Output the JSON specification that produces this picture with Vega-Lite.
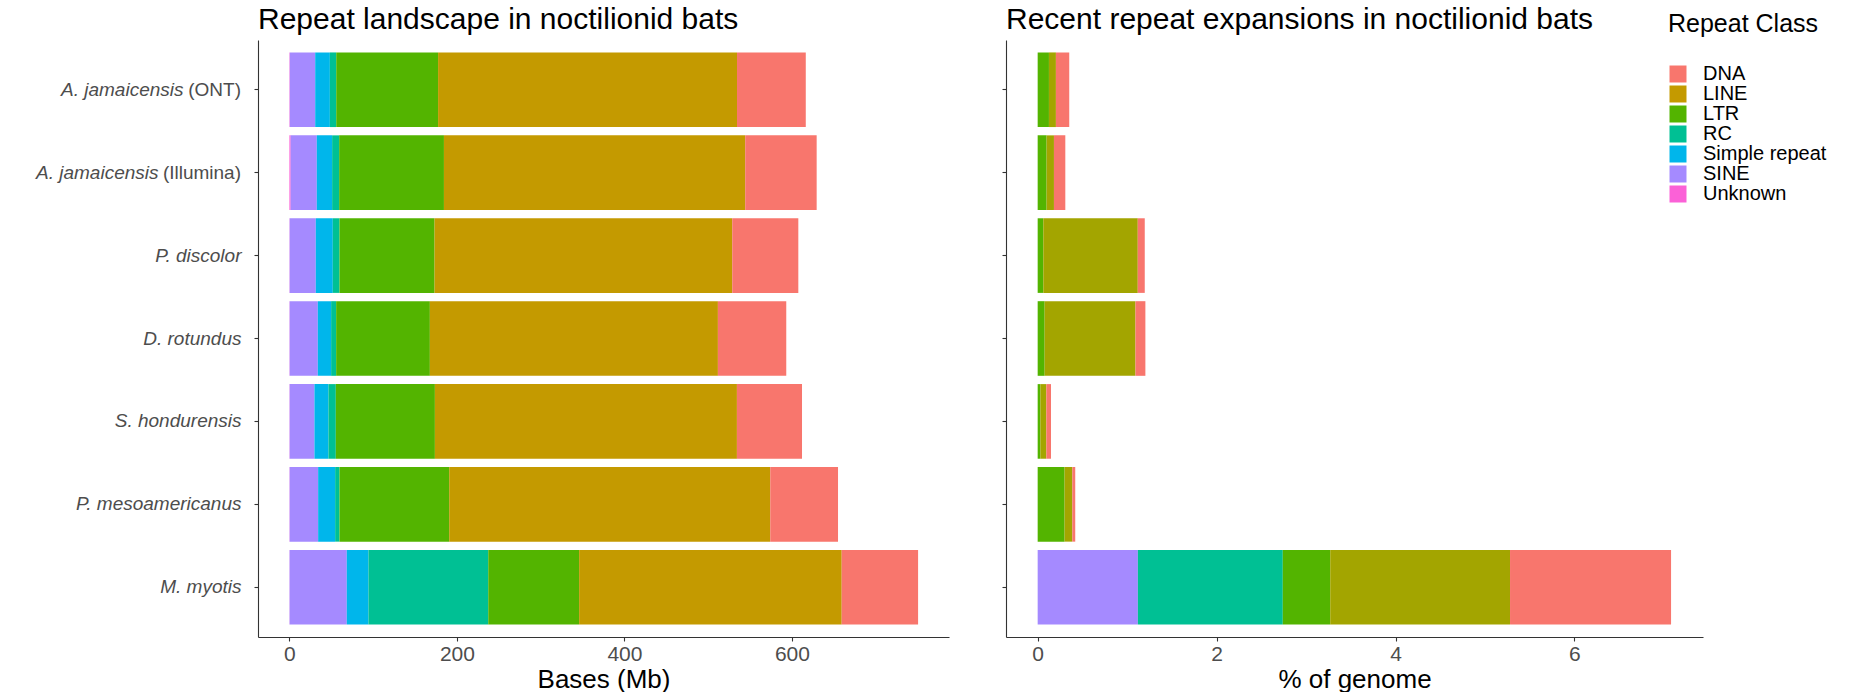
{
  "$schema": "https://vega.github.io/schema/vega-lite/v6.json",
  "padding": {"left": 5, "top": 5, "right": 5, "bottom": 0},
  "background": "white",
  "config": {"font": "Liberation Sans", "view": {"stroke": null}},
  "spacing": 52,
  "datasets": {
    "left": [
      {"species": "A. jamaicensis (ONT)", "cls": "Unknown", "mb": 0.5},
      {"species": "A. jamaicensis (ONT)", "cls": "SINE", "mb": 30.3},
      {"species": "A. jamaicensis (ONT)", "cls": "Simple repeat", "mb": 17.5},
      {"species": "A. jamaicensis (ONT)", "cls": "RC", "mb": 7.6},
      {"species": "A. jamaicensis (ONT)", "cls": "LTR", "mb": 121.6},
      {"species": "A. jamaicensis (ONT)", "cls": "LINE", "mb": 356.9},
      {"species": "A. jamaicensis (ONT)", "cls": "DNA", "mb": 82.1},
      {"species": "A. jamaicensis (Illumina)", "cls": "Unknown", "mb": 1.5},
      {"species": "A. jamaicensis (Illumina)", "cls": "SINE", "mb": 31.2},
      {"species": "A. jamaicensis (Illumina)", "cls": "Simple repeat", "mb": 18.3},
      {"species": "A. jamaicensis (Illumina)", "cls": "RC", "mb": 8.4},
      {"species": "A. jamaicensis (Illumina)", "cls": "LTR", "mb": 125.1},
      {"species": "A. jamaicensis (Illumina)", "cls": "LINE", "mb": 359.7},
      {"species": "A. jamaicensis (Illumina)", "cls": "DNA", "mb": 85.3},
      {"species": "P. discolor", "cls": "Unknown", "mb": 0.3},
      {"species": "P. discolor", "cls": "SINE", "mb": 31.2},
      {"species": "P. discolor", "cls": "Simple repeat", "mb": 20.3},
      {"species": "P. discolor", "cls": "RC", "mb": 8.0},
      {"species": "P. discolor", "cls": "LTR", "mb": 113.5},
      {"species": "P. discolor", "cls": "LINE", "mb": 355.4},
      {"species": "P. discolor", "cls": "DNA", "mb": 78.9},
      {"species": "D. rotundus", "cls": "Unknown", "mb": 0.3},
      {"species": "D. rotundus", "cls": "SINE", "mb": 33.6},
      {"species": "D. rotundus", "cls": "Simple repeat", "mb": 15.9},
      {"species": "D. rotundus", "cls": "RC", "mb": 6.0},
      {"species": "D. rotundus", "cls": "LTR", "mb": 111.9},
      {"species": "D. rotundus", "cls": "LINE", "mb": 343.9},
      {"species": "D. rotundus", "cls": "DNA", "mb": 81.6},
      {"species": "S. hondurensis", "cls": "Unknown", "mb": 0.3},
      {"species": "S. hondurensis", "cls": "SINE", "mb": 29.6},
      {"species": "S. hondurensis", "cls": "Simple repeat", "mb": 16.7},
      {"species": "S. hondurensis", "cls": "RC", "mb": 8.8},
      {"species": "S. hondurensis", "cls": "LTR", "mb": 118.3},
      {"species": "S. hondurensis", "cls": "LINE", "mb": 360.6},
      {"species": "S. hondurensis", "cls": "DNA", "mb": 77.7},
      {"species": "P. mesoamericanus", "cls": "Unknown", "mb": 0.3},
      {"species": "P. mesoamericanus", "cls": "SINE", "mb": 34.0},
      {"species": "P. mesoamericanus", "cls": "Simple repeat", "mb": 20.3},
      {"species": "P. mesoamericanus", "cls": "RC", "mb": 5.2},
      {"species": "P. mesoamericanus", "cls": "LTR", "mb": 131.0},
      {"species": "P. mesoamericanus", "cls": "LINE", "mb": 383.3},
      {"species": "P. mesoamericanus", "cls": "DNA", "mb": 80.9},
      {"species": "M. myotis", "cls": "Unknown", "mb": 0.2},
      {"species": "M. myotis", "cls": "SINE", "mb": 68.3},
      {"species": "M. myotis", "cls": "Simple repeat", "mb": 25.9},
      {"species": "M. myotis", "cls": "RC", "mb": 143.0},
      {"species": "M. myotis", "cls": "LTR", "mb": 108.5},
      {"species": "M. myotis", "cls": "LINE", "mb": 313.5},
      {"species": "M. myotis", "cls": "DNA", "mb": 91.2}
    ],
    "right": [
      {"species": "A. jamaicensis (ONT)", "cls": "LTR", "pct": 0.126},
      {"species": "A. jamaicensis (ONT)", "cls": "LINE", "pct": 0.078},
      {"species": "A. jamaicensis (ONT)", "cls": "DNA", "pct": 0.149},
      {"species": "A. jamaicensis (Illumina)", "cls": "LTR", "pct": 0.100},
      {"species": "A. jamaicensis (Illumina)", "cls": "LINE", "pct": 0.082},
      {"species": "A. jamaicensis (Illumina)", "cls": "DNA", "pct": 0.127},
      {"species": "P. discolor", "cls": "LTR", "pct": 0.063},
      {"species": "P. discolor", "cls": "LINE", "pct": 1.056},
      {"species": "P. discolor", "cls": "DNA", "pct": 0.078},
      {"species": "D. rotundus", "cls": "LTR", "pct": 0.078},
      {"species": "D. rotundus", "cls": "LINE", "pct": 1.015},
      {"species": "D. rotundus", "cls": "DNA", "pct": 0.111},
      {"species": "S. hondurensis", "cls": "LTR", "pct": 0.030},
      {"species": "S. hondurensis", "cls": "LINE", "pct": 0.067},
      {"species": "S. hondurensis", "cls": "DNA", "pct": 0.052},
      {"species": "P. mesoamericanus", "cls": "LTR", "pct": 0.301},
      {"species": "P. mesoamericanus", "cls": "LINE", "pct": 0.086},
      {"species": "P. mesoamericanus", "cls": "DNA", "pct": 0.033},
      {"species": "M. myotis", "cls": "SINE", "pct": 1.12},
      {"species": "M. myotis", "cls": "RC", "pct": 1.62},
      {"species": "M. myotis", "cls": "LTR", "pct": 0.53},
      {"species": "M. myotis", "cls": "LINE", "pct": 2.01},
      {"species": "M. myotis", "cls": "DNA", "pct": 1.80}
    ],
    "suffix": [
      {"species": "A. jamaicensis (ONT)", "suffix": "(ONT)"},
      {"species": "A. jamaicensis (Illumina)", "suffix": "(Illumina)"}
    ]
  },
  "resolve": {"scale": {"x": "independent", "y": "independent", "color": "shared"}},
  "hconcat": [
    {
      "width": 691,
      "height": 597,
      "title": {"text": "Repeat landscape in noctilionid bats", "anchor": "start", "frame": "group", "fontSize": 30, "fontWeight": "normal", "color": "black", "offset": 5},
      "layer": [
        {
          "data": {"name": "left"},
          "transform": [{"calculate": "indexof(['Unknown','SINE','Simple repeat','RC','LTR','LINE','DNA'], datum.cls)", "as": "o"}],
          "mark": {"type": "bar"},
          "encoding": {
            "y": {
              "field": "species", "type": "nominal",
              "sort": ["A. jamaicensis (ONT)", "A. jamaicensis (Illumina)", "P. discolor", "D. rotundus", "S. hondurensis", "P. mesoamericanus", "M. myotis"],
              "scale": {"paddingInner": 0.1, "paddingOuter": 0.15},
              "axis": {
                "title": null,
                "labelFontStyle": "italic",
                "labelFontSize": 19,
                "labelColor": "#4D4D4D",
                "labelExpr": "split(datum.label, ' (')[0]",
                "labelPadding": {"condition": [{"test": "indexof(datum.value, 'ONT') >= 0", "value": 71}, {"test": "indexof(datum.value, 'Illumina') >= 0", "value": 96}], "value": 13},
                "labelLimit": 0,
                "tickSize": 4, "tickColor": "#333333", "tickWidth": 1.1,
                "domainColor": "#333333", "domainWidth": 1.1,
                "minExtent": 253, "maxExtent": 253
              }
            },
            "x": {
              "field": "mb", "type": "quantitative", "stack": "zero",
              "scale": {"domain": [-37.5, 787.5], "nice": false, "zero": false},
              "axis": {
                "title": "Bases (Mb)", "titleFontSize": 26, "titleFontWeight": "normal", "titleColor": "black", "titlePadding": 2,
                "values": [0, 200, 400, 600], "labelFontSize": 21, "labelColor": "#4D4D4D", "labelPadding": 2, "labelFlush": false,
                "tickSize": 4, "tickColor": "#333333", "tickWidth": 1.1,
                "domainColor": "#333333", "domainWidth": 1.1, "grid": false
              }
            },
            "color": {
              "field": "cls", "type": "nominal",
              "scale": {"domain": ["DNA", "LINE", "LTR", "RC", "Simple repeat", "SINE", "Unknown"], "range": ["#F8766D", "#C49A00", "#53B400", "#00C094", "#00B6EB", "#A58AFF", "#FB61D7"]},
              "legend": {
                "title": "Repeat Class", "titleFontSize": 25, "titleFontWeight": "normal", "titleColor": "black", "titlePadding": 27,
                "labelFontSize": 20, "labelColor": "black", "symbolType": "square", "symbolSize": 289, "symbolStrokeWidth": 0, "symbolOpacity": 1,
                "labelOffset": 15, "rowPadding": -2, "padding": 0, "orient": "none", "legendX": 1410, "legendY": -28
              }
            },
            "order": {"field": "o", "type": "quantitative"}
          }
        },
        {
          "data": {"name": "suffix"},
          "mark": {"type": "text", "align": "right", "baseline": "middle", "dx": -17, "fontSize": 19, "color": "#4D4D4D"},
          "encoding": {
            "y": {"field": "species", "type": "nominal", "sort": ["A. jamaicensis (ONT)", "A. jamaicensis (Illumina)", "P. discolor", "D. rotundus", "S. hondurensis", "P. mesoamericanus", "M. myotis"]},
            "x": {"datum": -37.5},
            "text": {"field": "suffix"}
          }
        }
      ]
    },
    {
      "width": 697,
      "height": 597,
      "title": {"text": "Recent repeat expansions in noctilionid bats", "anchor": "start", "frame": "group", "fontSize": 30, "fontWeight": "normal", "color": "black", "offset": 5},
      "data": {"name": "right"},
      "transform": [{"calculate": "indexof(['Unknown','SINE','Simple repeat','RC','LTR','LINE','DNA'], datum.cls)", "as": "o"}],
      "mark": {"type": "bar"},
      "encoding": {
        "y": {
          "field": "species", "type": "nominal",
          "sort": ["A. jamaicensis (ONT)", "A. jamaicensis (Illumina)", "P. discolor", "D. rotundus", "S. hondurensis", "P. mesoamericanus", "M. myotis"],
          "scale": {"paddingInner": 0.1, "paddingOuter": 0.15},
          "axis": {
            "title": null, "labels": false,
            "tickSize": 4, "tickColor": "#333333", "tickWidth": 1.1,
            "domainColor": "#333333", "domainWidth": 1.1,
            "minExtent": 4, "maxExtent": 4
          }
        },
        "x": {
          "field": "pct", "type": "quantitative", "stack": "zero",
          "scale": {"domain": [-0.354, 7.437], "nice": false, "zero": false},
          "axis": {
            "title": "% of genome", "titleFontSize": 26, "titleFontWeight": "normal", "titleColor": "black", "titlePadding": 2,
            "values": [0, 2, 4, 6], "labelFontSize": 21, "labelColor": "#4D4D4D", "labelPadding": 2, "labelFlush": false,
            "tickSize": 4, "tickColor": "#333333", "tickWidth": 1.1,
            "domainColor": "#333333", "domainWidth": 1.1, "grid": false
          }
        },
        "fill": {
          "field": "cls", "type": "nominal",
          "scale": {"domain": ["DNA", "LINE", "LTR", "RC", "Simple repeat", "SINE", "Unknown"], "range": ["#F8766D", "#A3A500", "#53B400", "#00C094", "#00B6EB", "#A58AFF", "#FB61D7"]},
          "legend": null
        },
        "order": {"field": "o", "type": "quantitative"}
      }
    }
  ]
}
